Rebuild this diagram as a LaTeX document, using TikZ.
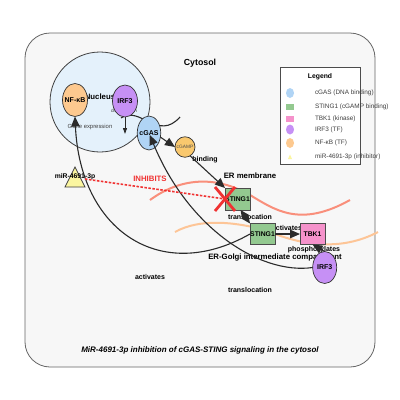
\documentclass[tikz,border=0pt]{standalone}
\usepackage{fontspec}
\setmainfont{Liberation Sans}
\usetikzlibrary{arrows.meta,shapes.geometric}
\definecolor{bgc}{HTML}{F7F7F7}
\definecolor{nucc}{HTML}{E4F1FB}
\definecolor{nfc}{HTML}{FDC98F}
\definecolor{irfc}{HTML}{C690F5}
\definecolor{cgasc}{HTML}{B0D4F5}
\definecolor{cgampc}{HTML}{F9C86E}
\definecolor{stc}{HTML}{93C990}
\definecolor{tbkc}{HTML}{F592CB}
\definecolor{mirc}{HTML}{FBF6A0}
\definecolor{erc}{HTML}{F98F7B}
\definecolor{ergc}{HTML}{FDC597}
\definecolor{redc}{HTML}{F03232}
\definecolor{linec}{HTML}{2B2B2B}
\newcommand{\mk}[1]{\makebox[0pt]{#1}}
\begin{document}
\begin{tikzpicture}[x=1pt,y=-1pt,
  every node/.style={inner sep=0pt,outer sep=0pt},
  oval/.style={ellipse,draw=black!80,line width=0.7pt,minimum width=25pt,minimum height=33pt,font=\bfseries\fontsize{7}{8}\selectfont},
  box/.style={rectangle,draw=black!70,line width=0.7pt,minimum width=25pt,minimum height=21pt,font=\bfseries\fontsize{6.8}{7}\selectfont},
  lbl/.style={font=\bfseries\fontsize{7}{8}\selectfont},
  big/.style={font=\bfseries\fontsize{7.8}{9}\selectfont},
  leg/.style={anchor=west,font=\fontsize{6.4}{7}\selectfont,text=black!75},
  conn/.style={draw=linec,line width=1.1pt,-{Triangle[length=10pt,width=8.5pt]}},
]
\fill[white] (0,0) rectangle (400,400);
\useasboundingbox (0,0) rectangle (400,400);
% outer cytosol box
\draw[fill=bgc,draw=black!60,line width=0.8pt,rounded corners=25pt] (25,33) rectangle (375,367);
\node[font=\bfseries\fontsize{8.8}{10}\selectfont] (cytosol) at (200,63) {Cytosol};
% membranes
\draw[erc,line width=2pt] (150,200) .. controls (180,178) and (215,175) .. (250,195) .. controls (275,210) and (300,228) .. (350,200);
\draw[ergc,line width=2pt] (175,232) .. controls (200,218) and (235,222) .. (265,230) .. controls (300,245) and (340,252) .. (378,232);
% nucleus
\node[circle,minimum size=100pt,fill=nucc,draw=black!75,line width=0.8pt] (nucleus) at (100,102) {};
\node[font=\bfseries\fontsize{7.8}{8}\selectfont] (nuctext) at (100,97) {Nucleus};
\node[font=\fontsize{5.9}{6}\selectfont,text=black!75] (gexp) at (90,127) {Gene expression};
\node[font=\fontsize{4.8}{5}\selectfont,text=black!75] (dim) at (124,111) {dimerization};
% cytosolic DNA
\draw[linec,line width=1.1pt] (121,118) .. controls (140,105) and (158,142) .. (180,117);
\node[oval,fill=nfc] (nfkb) at (75,100) {\mk{NF-κB}};
\node[oval,fill=irfc,minimum height=32pt] (irf3n) at (125,101) {\mk{IRF3}};
\coordinate (nucarrow) at (125,134);
\draw[conn,line width=0.9pt,-{Triangle[length=6pt,width=4pt]}] (irf3n.south) -- (nucarrow);
\node[oval,fill=cgasc,minimum width=23.5pt,minimum height=34pt] (cgas) at (149,133) {\mk{cGAS}};
\node[oval,fill=cgampc,minimum width=20pt,minimum height=20.5pt,font=\fontsize{4.8}{5}\selectfont,text=black!70] (cgamp) at (185,147) {\mk{cGAMP}};
% labels
\node[lbl] (binding) at (205,160) {binding};
\node[big] (ermem) at (250,176) {ER membrane};
\node[big,text=redc] (inhib) at (150,179) {INHIBITS};
\node[lbl] (trans1) at (250,217) {translocation};
\node[lbl] (act1) at (287,228) {activates};
\node[lbl] (phos) at (314,250) {phosphorylates};
\node[big] (ergic) at (275,257) {ER-Golgi intermediate compartment};
\node[lbl] (act2) at (150,277) {activates};
\node[lbl] (trans2) at (250,290) {translocation};
% boxes
\node[box,fill=stc,minimum height=22pt] (stingA) at (237.5,199) {STING1};
\node[box,fill=stc] (stingB) at (262.5,234) {STING1};
\node[box,fill=tbkc] (tbk1) at (312.5,234) {TBK1};
% miR
\draw[fill=mirc,draw=black!75,line width=0.7pt] (75,167) -- (85,187) -- (65,187) -- cycle;
\node[font=\bfseries\fontsize{6.8}{7}\selectfont] (mir) at (75,177) {miR-4691-3p};
\coordinate (mirR) at (85,179);
% connectors
\draw[conn] (cgas.-20) -- (cgamp.west);
\draw[conn] (cgamp.-60) -- (stingA.north west);
\draw[conn,{Triangle[length=8pt,width=7pt]}-{Triangle[length=9pt,width=8pt]}] ([xshift=3pt]stingA.south) -- (stingB.north west);
\draw[conn] (stingB.east) -- (tbk1.west);
\draw[conn] (stingB.west) .. controls (160,285) and (80,230) .. (nfkb.south);
\node[oval,fill=irfc,minimum width=24pt,minimum height=32pt] (irf3c) at (324.7,267.5) {\mk{IRF3}};
\draw[conn,shorten >=2pt] (irf3c.west) .. controls (260,275) and (188,228) .. (cgas.center);
\draw[conn] (irf3c.north) -- (tbk1.south);
% inhibition
\draw[redc,line width=1.6pt,dash pattern=on 2.5pt off 1.5pt] (mirR) -- (stingA.west);
\draw[redc,line width=2.8pt] ([shift={(-10,-12)}]stingA.west) -- ([shift={(10,12)}]stingA.west)
  ([shift={(-10,12)}]stingA.west) -- ([shift={(10,-12)}]stingA.west);
% legend
\node[rectangle,draw=black!70,fill=white,line width=0.8pt,minimum width=80pt,minimum height=97pt] (legbox) at (320,115.5) {};
\node[font=\bfseries\fontsize{6.8}{7}\selectfont] (legtitle) at (320,77) {Legend};
\node[ellipse,fill=cgasc,minimum width=8pt,minimum height=10pt] (l1) at (290,93) {};
\node[leg] (t1) at (315,93) {cGAS (DNA binding)};
\node[rectangle,fill=stc,minimum width=8pt,minimum height=6pt] (l2) at (290,107) {};
\node[leg] (t2) at (315,107) {STING1 (cGAMP binding)};
\node[rectangle,fill=tbkc,minimum width=8pt,minimum height=6pt] (l3) at (290,119) {};
\node[leg] (t3) at (315,119) {TBK1 (kinase)};
\node[ellipse,fill=irfc,minimum width=8pt,minimum height=10pt] (l4) at (290,129.5) {};
\node[leg] (t4) at (315,129.5) {IRF3 (TF)};
\node[ellipse,fill=nfc,minimum width=8pt,minimum height=10pt] (l5) at (290,143) {};
\node[leg] (t5) at (315,143) {NF-κB (TF)};
\coordinate (l6) at (290,157);
\fill[mirc] ([shift={(0,-2.5)}]l6) -- ([shift={(2,2)}]l6) -- ([shift={(-2,2)}]l6) -- cycle;
\node[leg] (t6) at (315,157) {miR-4691-3p (inhibitor)};
% caption
\node[font=\bfseries\itshape\fontsize{8}{9}\selectfont] (caption) at (200,350) {MiR-4691-3p inhibition of cGAS-STING signaling in the cytosol};
\end{tikzpicture}
\end{document}
